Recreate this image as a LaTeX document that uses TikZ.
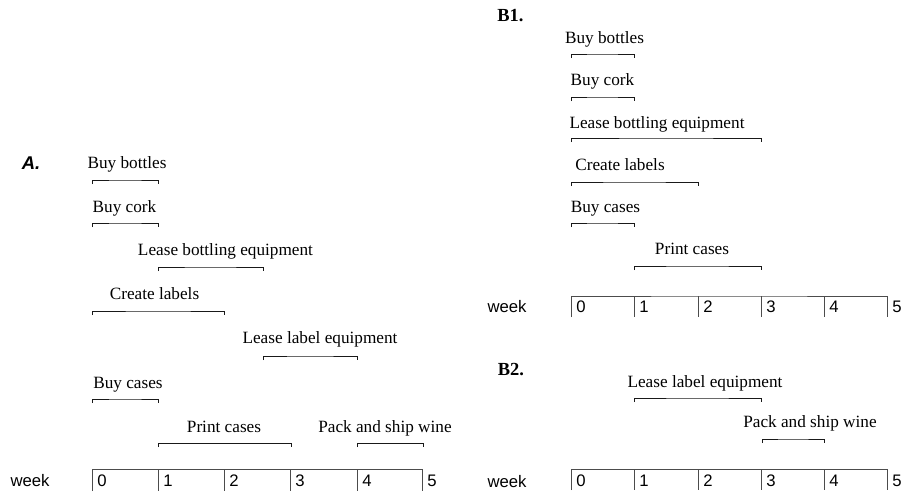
\documentclass[tikz,border=0pt]{standalone}
\usepackage{fontspec}
\setmainfont{Liberation Serif}
\setsansfont{Liberation Sans}
\usepackage{tikz}

\begin{document}
\begin{tikzpicture}[x=0.02cm, y=-0.02cm]
        \tikzset{task/.style={anchor=base, inner sep=0pt, font=\fontsize{9.8}{11}\selectfont},
                 bracket/.style={line width=0.55pt, black!90},
                 axis/.style={line width=0.55pt, black!70},
                 weeknum/.style={anchor=west, inner sep=0pt, font=\sffamily\fontsize{9.5}{11}\selectfont},
                 axislabel/.style={inner sep=0pt, font=\sffamily\fontsize{9.5}{11}\selectfont}}
        \useasboundingbox (0,0) rectangle (907,495);
        % panel A
        \node [font=\sffamily\bfseries\itshape\fontsize{10.5}{12}\selectfont] (atitle) at (31,163){A.};
        \node [task] (abottles) at (127,168){Buy bottles};
        \node [task] (acork)    at (124.5,212){Buy cork};
        \node [task] (alease)   at (225.5,255){Lease bottling equipment};
        \node [task] (alabels)  at (154.5,299){Create labels};
        \node [task] (alabeleq) at (320,343){Lease label equipment};
        \node [task] (acases)   at (128,388){Buy cases};
        \node [task] (aprint)   at (224,432){Print cases};
        \node [task] (aship)    at (385,432){Pack and ship wine};
        \draw [bracket] (92,184)  |- (125,180) -| (158,184);
        \draw [bracket] (92,227)  |- (125,223) -| (158,227);
        \draw [bracket] (158,271) |- (210,267) -| (263,271);
        \draw [bracket] (92,315)  |- (158,311) -| (224,315);
        \draw [bracket] (263,360) |- (310,356) -| (357,360);
        \draw [bracket] (92,403)  |- (125,399) -| (158,403);
        \draw [bracket] (158,447) |- (224,443) -| (291,447);
        \draw [bracket] (357,447) |- (390,443) -| (423,447);
        \node [axislabel] (aweek) at (30,481){week};
        \draw [axis] (92,491) |- (257,469) -| (422,491);
        \draw [axis] (158,469) -- (158,491);
        \draw [axis] (224,469) -- (224,491);
        \draw [axis] (290,469) -- (290,491);
        \draw [axis] (357,469) -- (357,491);
        \node [weeknum] (a0) at (97,481){0};
        \node [weeknum] (a1) at (163,481){1};
        \node [weeknum] (a2) at (229,481){2};
        \node [weeknum] (a3) at (295,481){3};
        \node [weeknum] (a4) at (362,481){4};
        \node [weeknum] (a5) at (427,481){5};
        % panel B1
        \node [font=\bfseries\fontsize{10.5}{12}\selectfont] (btitle) at (510.5,16){B1.};
        \node [task] (bbottles) at (604.5,43){Buy bottles};
        \node [task] (bcork)    at (602.5,85){Buy cork};
        \node [task] (blease)   at (657,128){Lease bottling equipment};
        \node [task] (blabels)  at (620,170){Create labels};
        \node [task] (bcases)   at (605.5,212){Buy cases};
        \node [task] (bprint)   at (692,254){Print cases};
        \draw [bracket] (571,58)  |- (602,54)  -| (634,58);
        \draw [bracket] (571,101) |- (602,97)  -| (634,101);
        \draw [bracket] (571,142) |- (666,138) -| (761,142);
        \draw [bracket] (571,186) |- (634,182) -| (698,186);
        \draw [bracket] (571,227) |- (602,223) -| (634,227);
        \draw [bracket] (634,270) |- (697,266) -| (761,270);
        \node [axislabel] (bweek) at (507,307){week};
        \draw [axis] (571,317) |- (729,296) -| (887,317);
        \draw [axis] (634,296) -- (634,317);
        \draw [axis] (698,296) -- (698,317);
        \draw [axis] (761,296) -- (761,317);
        \draw [axis] (824,296) -- (824,317);
        \node [weeknum] (b0) at (576,307){0};
        \node [weeknum] (b1) at (639,307){1};
        \node [weeknum] (b2) at (703,307){2};
        \node [weeknum] (b3) at (766,307){3};
        \node [weeknum] (b4) at (829,307){4};
        \node [weeknum] (b5) at (892,307){5};
        % panel B2
        \node [font=\bfseries\fontsize{10.5}{12}\selectfont] (ctitle) at (511,370){B2.};
        \node [task] (clabeleq) at (705,387){Lease label equipment};
        \node [task] (cship)    at (810,427){Pack and ship wine};
        \draw [bracket] (634,402) |- (697,398) -| (761,402);
        \draw [bracket] (762,443) |- (793,439) -| (824,443);
        \node [axislabel] (cweek) at (507,482){week};
        \draw [axis] (571,490) |- (729,469) -| (887,490);
        \draw [axis] (634,469) -- (634,490);
        \draw [axis] (698,469) -- (698,490);
        \draw [axis] (761,469) -- (761,490);
        \draw [axis] (824,469) -- (824,490);
        \node [weeknum] (c0) at (576,481){0};
        \node [weeknum] (c1) at (639,481){1};
        \node [weeknum] (c2) at (703,481){2};
        \node [weeknum] (c3) at (766,481){3};
        \node [weeknum] (c4) at (829,481){4};
        \node [weeknum] (c5) at (892,481){5};
    \end{tikzpicture}
\end{document}
